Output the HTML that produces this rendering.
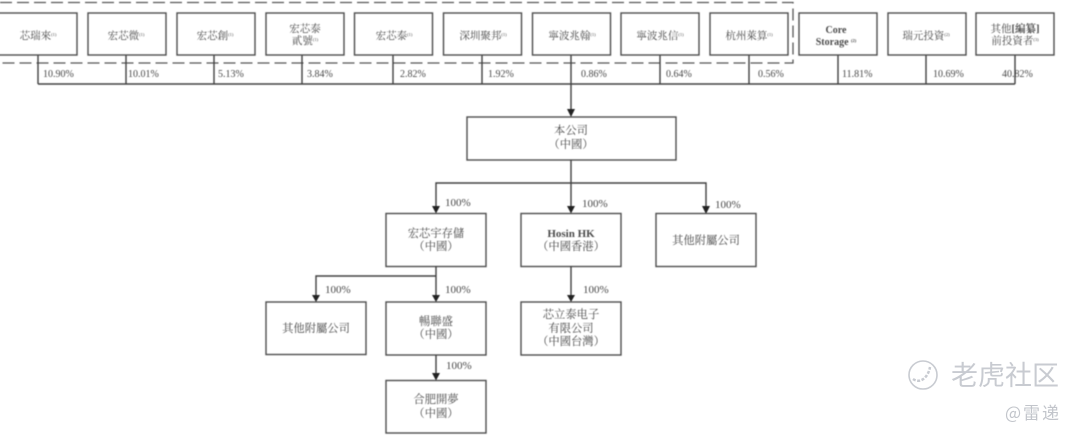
<!DOCTYPE html>
<html>
<head>
<meta charset="utf-8">
<style>
html,body{margin:0;padding:0;background:#fff;width:1080px;height:438px;overflow:hidden}
svg{display:block}
text{font-family:"Liberation Serif","Noto Serif CJK SC","Noto Serif CJK TC",serif;fill:#4a4a4a}
.cn{text-anchor:middle;font-size:10.5px}
.m{text-anchor:middle;font-size:11.3px}
.sup{font-size:4.5px}
.p{font-size:10px;fill:#484848}
.h{font-size:11px;fill:#484848}
.b{fill:#fff;stroke:#4d4d4d;stroke-width:1.4}
.l{fill:none;stroke:#404040;stroke-width:1.4}
.a{fill:#222;stroke:none}
.w{font-family:"Noto Sans CJK SC","Liberation Sans",sans-serif;fill:#c8cbd1}
</style>
</head>
<body>
<svg width="1080" height="438" viewBox="0 0 1080 438" xmlns="http://www.w3.org/2000/svg">
<g style="filter:blur(0.45px)">
<!-- dashed group -->
<path d="M0 2.5H793V63H0" fill="none" stroke="#555" stroke-width="1.3" stroke-dasharray="12 5"/>

<!-- top connectors -->
<path class="l" d="M38 55V84M126 55V84M214 55V84M302 55V84M393 55V84M482 55V84M571 55V110M660 55V84M749 55V84M838 55V84M926 55V84M1015 55V84M38 84H1015"/>
<path class="a" d="M567 109H575L571 117Z"/>

<!-- top boxes -->
<rect class="b" x="-2" y="13" width="79" height="42"/>
<rect class="b" x="88" y="13" width="78" height="42"/>
<rect class="b" x="177" y="13" width="78" height="42"/>
<rect class="b" x="266" y="13" width="78" height="42"/>
<rect class="b" x="354.5" y="13" width="78" height="42"/>
<rect class="b" x="443.5" y="13" width="78" height="42"/>
<rect class="b" x="532.5" y="13" width="78" height="42"/>
<rect class="b" x="621" y="13" width="78" height="42"/>
<rect class="b" x="710" y="13" width="78" height="42"/>
<rect class="b" x="799" y="13" width="78" height="42"/>
<rect class="b" x="888" y="13" width="78" height="42"/>
<rect class="b" x="976" y="13" width="78" height="42"/>

<!-- top labels -->
<text class="cn" x="38" y="39">芯瑞來<tspan class="sup" dy="-3">(1)</tspan></text>
<text class="cn" x="126" y="39">宏芯微<tspan class="sup" dy="-3">(1)</tspan></text>
<text class="cn" x="215" y="39">宏芯創<tspan class="sup" dy="-3">(1)</tspan></text>
<text class="cn" x="305" y="32">宏芯泰</text>
<text class="cn" x="305" y="44">貳號<tspan class="sup" dy="-3">(1)</tspan></text>
<text class="cn" x="394" y="39">宏芯泰<tspan class="sup" dy="-3">(1)</tspan></text>
<text class="cn" x="483" y="39">深圳聚邦<tspan class="sup" dy="-3">(1)</tspan></text>
<text class="cn" x="572" y="39">寧波兆翰<tspan class="sup" dy="-3">(1)</tspan></text>
<text class="cn" x="660" y="39">寧波兆信<tspan class="sup" dy="-3">(1)</tspan></text>
<text class="cn" x="749" y="39">杭州萊算<tspan class="sup" dy="-3">(1)</tspan></text>
<text class="cn" x="836" y="33" style="font-weight:bold;font-size:10px">Core</text>
<text class="cn" x="836" y="45" style="font-weight:bold;font-size:10px">Storage <tspan class="sup" dy="-3">(2)</tspan></text>
<text class="cn" x="926" y="39">瑞元投資<tspan class="sup" dy="-3">(2)</tspan></text>
<text class="cn" x="1015" y="32">其他<tspan style="font-weight:bold">[編纂]</tspan></text>
<text class="cn" x="1015" y="44">前投資者<tspan class="sup" dy="-3">(3)</tspan></text>

<!-- top percentages -->
<text class="p" x="43" y="77">10.90%</text>
<text class="p" x="128" y="77">10.01%</text>
<text class="p" x="218" y="77">5.13%</text>
<text class="p" x="307" y="77">3.84%</text>
<text class="p" x="400" y="77">2.82%</text>
<text class="p" x="488" y="77">1.92%</text>
<text class="p" x="581" y="77">0.86%</text>
<text class="p" x="666" y="77">0.64%</text>
<text class="p" x="758" y="77">0.56%</text>
<text class="p" x="842" y="77">11.81%</text>
<text class="p" x="933" y="77">10.69%</text>
<text class="p" x="1002" y="77">40.82%</text>

<!-- main box -->
<rect class="b" x="467" y="117" width="209" height="43"/>
<text class="m" x="571" y="134">本公司</text>
<text class="m" x="571" y="148">（中國）</text>

<!-- second tier connectors -->
<path class="l" d="M571 160V206M436 206V183H706V206"/>
<path class="a" d="M432 206H440L436 213.5Z"/>
<path class="a" d="M567 206H575L571 213.5Z"/>
<path class="a" d="M702 206H710L706 214Z"/>
<text class="h" x="445" y="206">100%</text>
<text class="h" x="582" y="207">100%</text>
<text class="h" x="715" y="208">100%</text>

<rect class="b" x="386" y="213.5" width="100" height="53"/>
<rect class="b" x="521" y="213.5" width="100" height="53"/>
<rect class="b" x="656" y="213.5" width="100" height="53"/>
<text class="m" x="436" y="237">宏芯宇存儲</text>
<text class="m" x="436" y="250">（中國）</text>
<text class="m" x="571" y="237" style="font-weight:bold;font-size:11px">Hosin HK</text>
<text class="m" x="571" y="250">（中國香港）</text>
<text class="m" x="706" y="244">其他附屬公司</text>

<!-- third tier connectors -->
<path class="l" d="M436 266V295M316 295V276H436M571 266V295"/>
<path class="a" d="M312 295H320L316 302Z"/>
<path class="a" d="M432 295H440L436 302Z"/>
<path class="a" d="M567 295H575L571 302Z"/>
<text class="h" x="325" y="293">100%</text>
<text class="h" x="445" y="293">100%</text>
<text class="h" x="583" y="293">100%</text>

<rect class="b" x="266" y="302" width="100" height="52.5"/>
<rect class="b" x="386" y="302" width="100" height="53"/>
<rect class="b" x="521" y="302" width="100" height="53"/>
<text class="m" x="316" y="332">其他附屬公司</text>
<text class="m" x="436" y="325">暢聯盛</text>
<text class="m" x="436" y="338">（中國）</text>
<text class="m" x="571" y="318">芯立泰电子</text>
<text class="m" x="571" y="332">有限公司</text>
<text class="m" x="571" y="345">（中國台灣）</text>

<!-- bottom -->
<path class="l" d="M436 355V374"/>
<path class="a" d="M432 373H440L436 380.5Z"/>
<text class="h" x="446" y="369">100%</text>
<rect class="b" x="386" y="380.5" width="100" height="52.5"/>
<text class="m" x="436" y="403">合肥開夢</text>
<text class="m" x="436" y="417">（中國）</text>
</g>

<!-- watermark -->
<g style="filter:blur(0.3px)">
<circle cx="923" cy="375" r="14" fill="none" stroke="#c8cbd1" stroke-width="1.6"/>
<path d="M913 379C920 384 928 378 930 367" fill="none" stroke="#c8cbd1" stroke-width="2.5" stroke-dasharray="3 1.5"/>
<text class="w" x="951" y="385" font-size="27" textLength="108">老虎社区</text>
<text class="w" x="1005" y="419" font-size="17" style="fill:#c2c5cb" textLength="54">@雷递</text>
</g>
</svg>
</body>
</html>
